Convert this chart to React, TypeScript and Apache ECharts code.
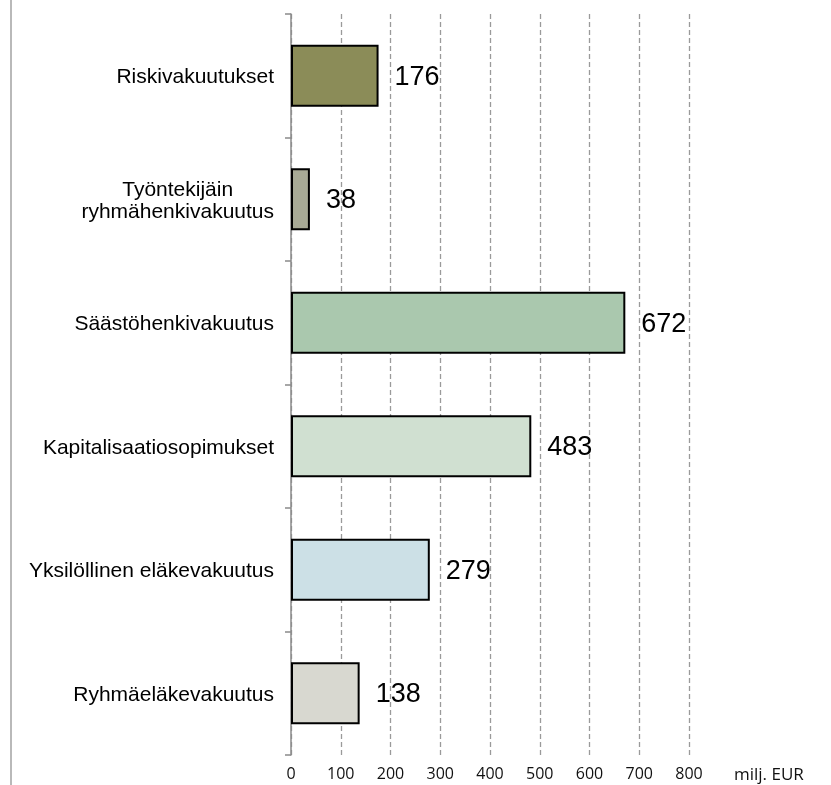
import React, { useEffect, useRef } from "react";
import * as echarts from "echarts";

const categories = [
  "Riskivakuutukset",
  "Työntekijäin\nryhmähenkivakuutus",
  "Säästöhenkivakuutus",
  "Kapitalisaatiosopimukset",
  "Yksilöllinen eläkevakuutus",
  "Ryhmäeläkevakuutus",
];
const values = [176, 38, 672, 483, 279, 138];
const barColors = ["#8B8C58", "#A8AA96", "#AAC8AE", "#D0E0D1", "#CCE0E6", "#D8D8D0"];
const unitLabel = "milj. EUR";

export default function App() {
  const ref = useRef<HTMLDivElement>(null);
  useEffect(() => {
    if (!ref.current) return;
    const chart = echarts.init(ref.current, undefined, { renderer: "svg" });
    chart.setOption({
      animation: false,
      grid: { left: 291, right: 142, top: 14, bottom: 30, containLabel: false },
      xAxis: {
        type: "value",
        min: 0,
        max: 800,
        interval: 100,
        axisLine: { show: false },
        axisTick: { show: false },
        axisLabel: {
          margin: 10,
          fontSize: 16,
          lineHeight: 16,
          color: "#111",
          fontFamily: "Open Sans",
        },
        splitLine: {
          show: true,
          lineStyle: { color: "#9a9a9a", type: [5, 3], width: 1.3 },
        },
      },
      yAxis: {
        type: "category",
        data: categories,
        inverse: true,
        axisLine: { show: true, lineStyle: { color: "#8a8a8a", width: 1.5 } },
        axisTick: { show: true, length: 6, lineStyle: { color: "#8a8a8a", width: 1.5 } },
        splitLine: { show: false },
        axisLabel: {
          margin: 17,
          color: "#000",
          fontSize: 21,
          fontFamily: "Liberation Sans",
          formatter: (v: string) =>
            v
              .split("\n")
              .map((s) => `{c|${s}}`)
              .join("\n"),
          rich: {
            c: {
              align: "center",
              fontSize: 21,
              lineHeight: 22,
              color: "#000",
              fontFamily: "Liberation Sans",
            },
          },
        },
      },
      graphic: [
        {
          type: "line",
          shape: { x1: 11, y1: 0, x2: 11, y2: 785 },
          style: { stroke: "#8a8a8a", lineWidth: 1.2 },
        },
        {
          type: "text",
          left: 734,
          top: 765,
          style: {
            text: unitLabel,
            fontSize: 17,
            lineHeight: 17,
            fill: "#111",
            fontFamily: "Open Sans",
          },
        },
      ],
      series: [
        {
          type: "bar",
          barWidth: 62,
          data: values.map((v, i) => ({
            value: v,
            itemStyle: { color: barColors[i], borderColor: "#000", borderWidth: 2 },
          })),
          label: {
            show: true,
            position: "right",
            distance: 16,
            fontSize: 27,
            color: "#000",
            fontFamily: "Liberation Sans",
          },
        },
      ],
    });
    return () => chart.dispose();
  }, []);
  return (
    <div
      ref={ref}
      style={{ position: "fixed", left: 0, top: 0, width: 831, height: 785 }}
    />
  );
}
